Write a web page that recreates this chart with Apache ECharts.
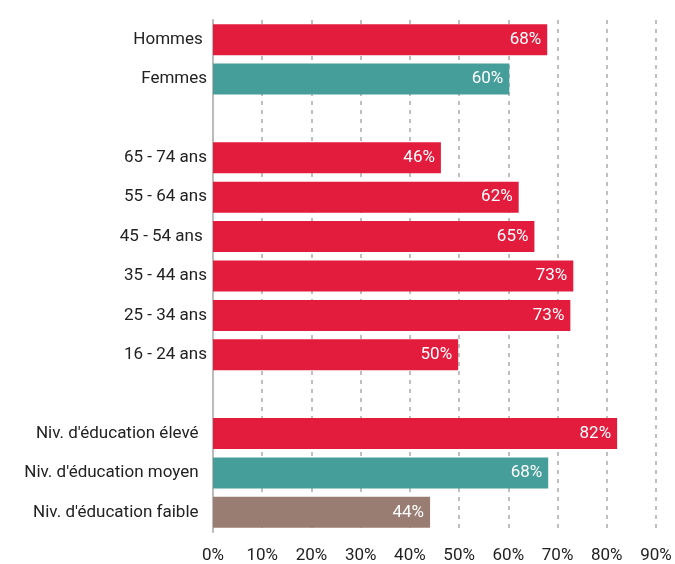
<!DOCTYPE html>
<html>
<head>
<meta charset="utf-8">
<script src="https://cdn.jsdelivr.net/npm/echarts@6/dist/echarts.min.js"></script>
<style>html,body{margin:0;padding:0;background:#fff;}#c{width:675px;height:564px;}</style>
</head>
<body>
<div id="c"></div>
<script>
const categories = ["Hommes ", "Femmes", "", "65 - 74 ans", "55 - 64 ans", "45 - 54 ans ", "35 - 44 ans", "25 - 34 ans", "16 - 24 ans", "", "Niv. d'éducation élevé  ", "Niv. d'éducation moyen  ", "Niv. d'éducation faible  "];
const values = [67.9, 60.2, null, 46.3, 62.1, 65.3, 73.2, 72.6, 49.8, null, 82.1, 68.1, 44.1];
const labels = ["68%", "60%", "", "46%", "62%", "65%", "73%", "73%", "50%", "", "82%", "68%", "44%"];
const colors = ["#E31C3D", "#459E99", null, "#E31C3D", "#E31C3D", "#E31C3D", "#E31C3D", "#E31C3D", "#E31C3D", null, "#E31C3D", "#459E99", "#9A7D72"];
const tickLabels = ["0%", "10%", "20%", "30%", "40%", "50%", "60%", "70%", "80%", "90%"];

const chart = echarts.init(document.getElementById('c'), null, {renderer: 'canvas'});
chart.setOption({
  animation: false,
  grid: {left: 213, right: 19, top: 20, bottom: 30, containLabel: false},
  xAxis: {
    type: 'value', min: 0, max: 90, interval: 10,
    axisLine: {show: false}, axisTick: {show: false},
    splitLine: {show: true, lineStyle: {color: '#aaaaaa', type: [4, 5], width: 1.5}},
    axisLabel: {color: '#222', fontSize: 17, fontFamily: 'Roboto', margin: 15,
      formatter: (v) => tickLabels[Math.round(v / 10)]}
  },
  yAxis: {
    type: 'category', inverse: true, data: categories,
    axisLine: {show: true, lineStyle: {color: '#bbbbbb', width: 2}},
    axisTick: {show: false},
    axisLabel: {color: '#222', fontSize: 17, fontFamily: 'Roboto', margin: 6}
  },
  series: [{
    type: 'bar',
    barWidth: 31,
    data: values.map((v, i) => ({value: v, itemStyle: {color: colors[i]}})),
    label: {
      show: true, position: 'insideRight', color: '#fff', fontSize: 17, fontFamily: 'Roboto', distance: 6,
      formatter: (p) => labels[p.dataIndex]
    }
  }]
});
</script>
</body>
</html>
